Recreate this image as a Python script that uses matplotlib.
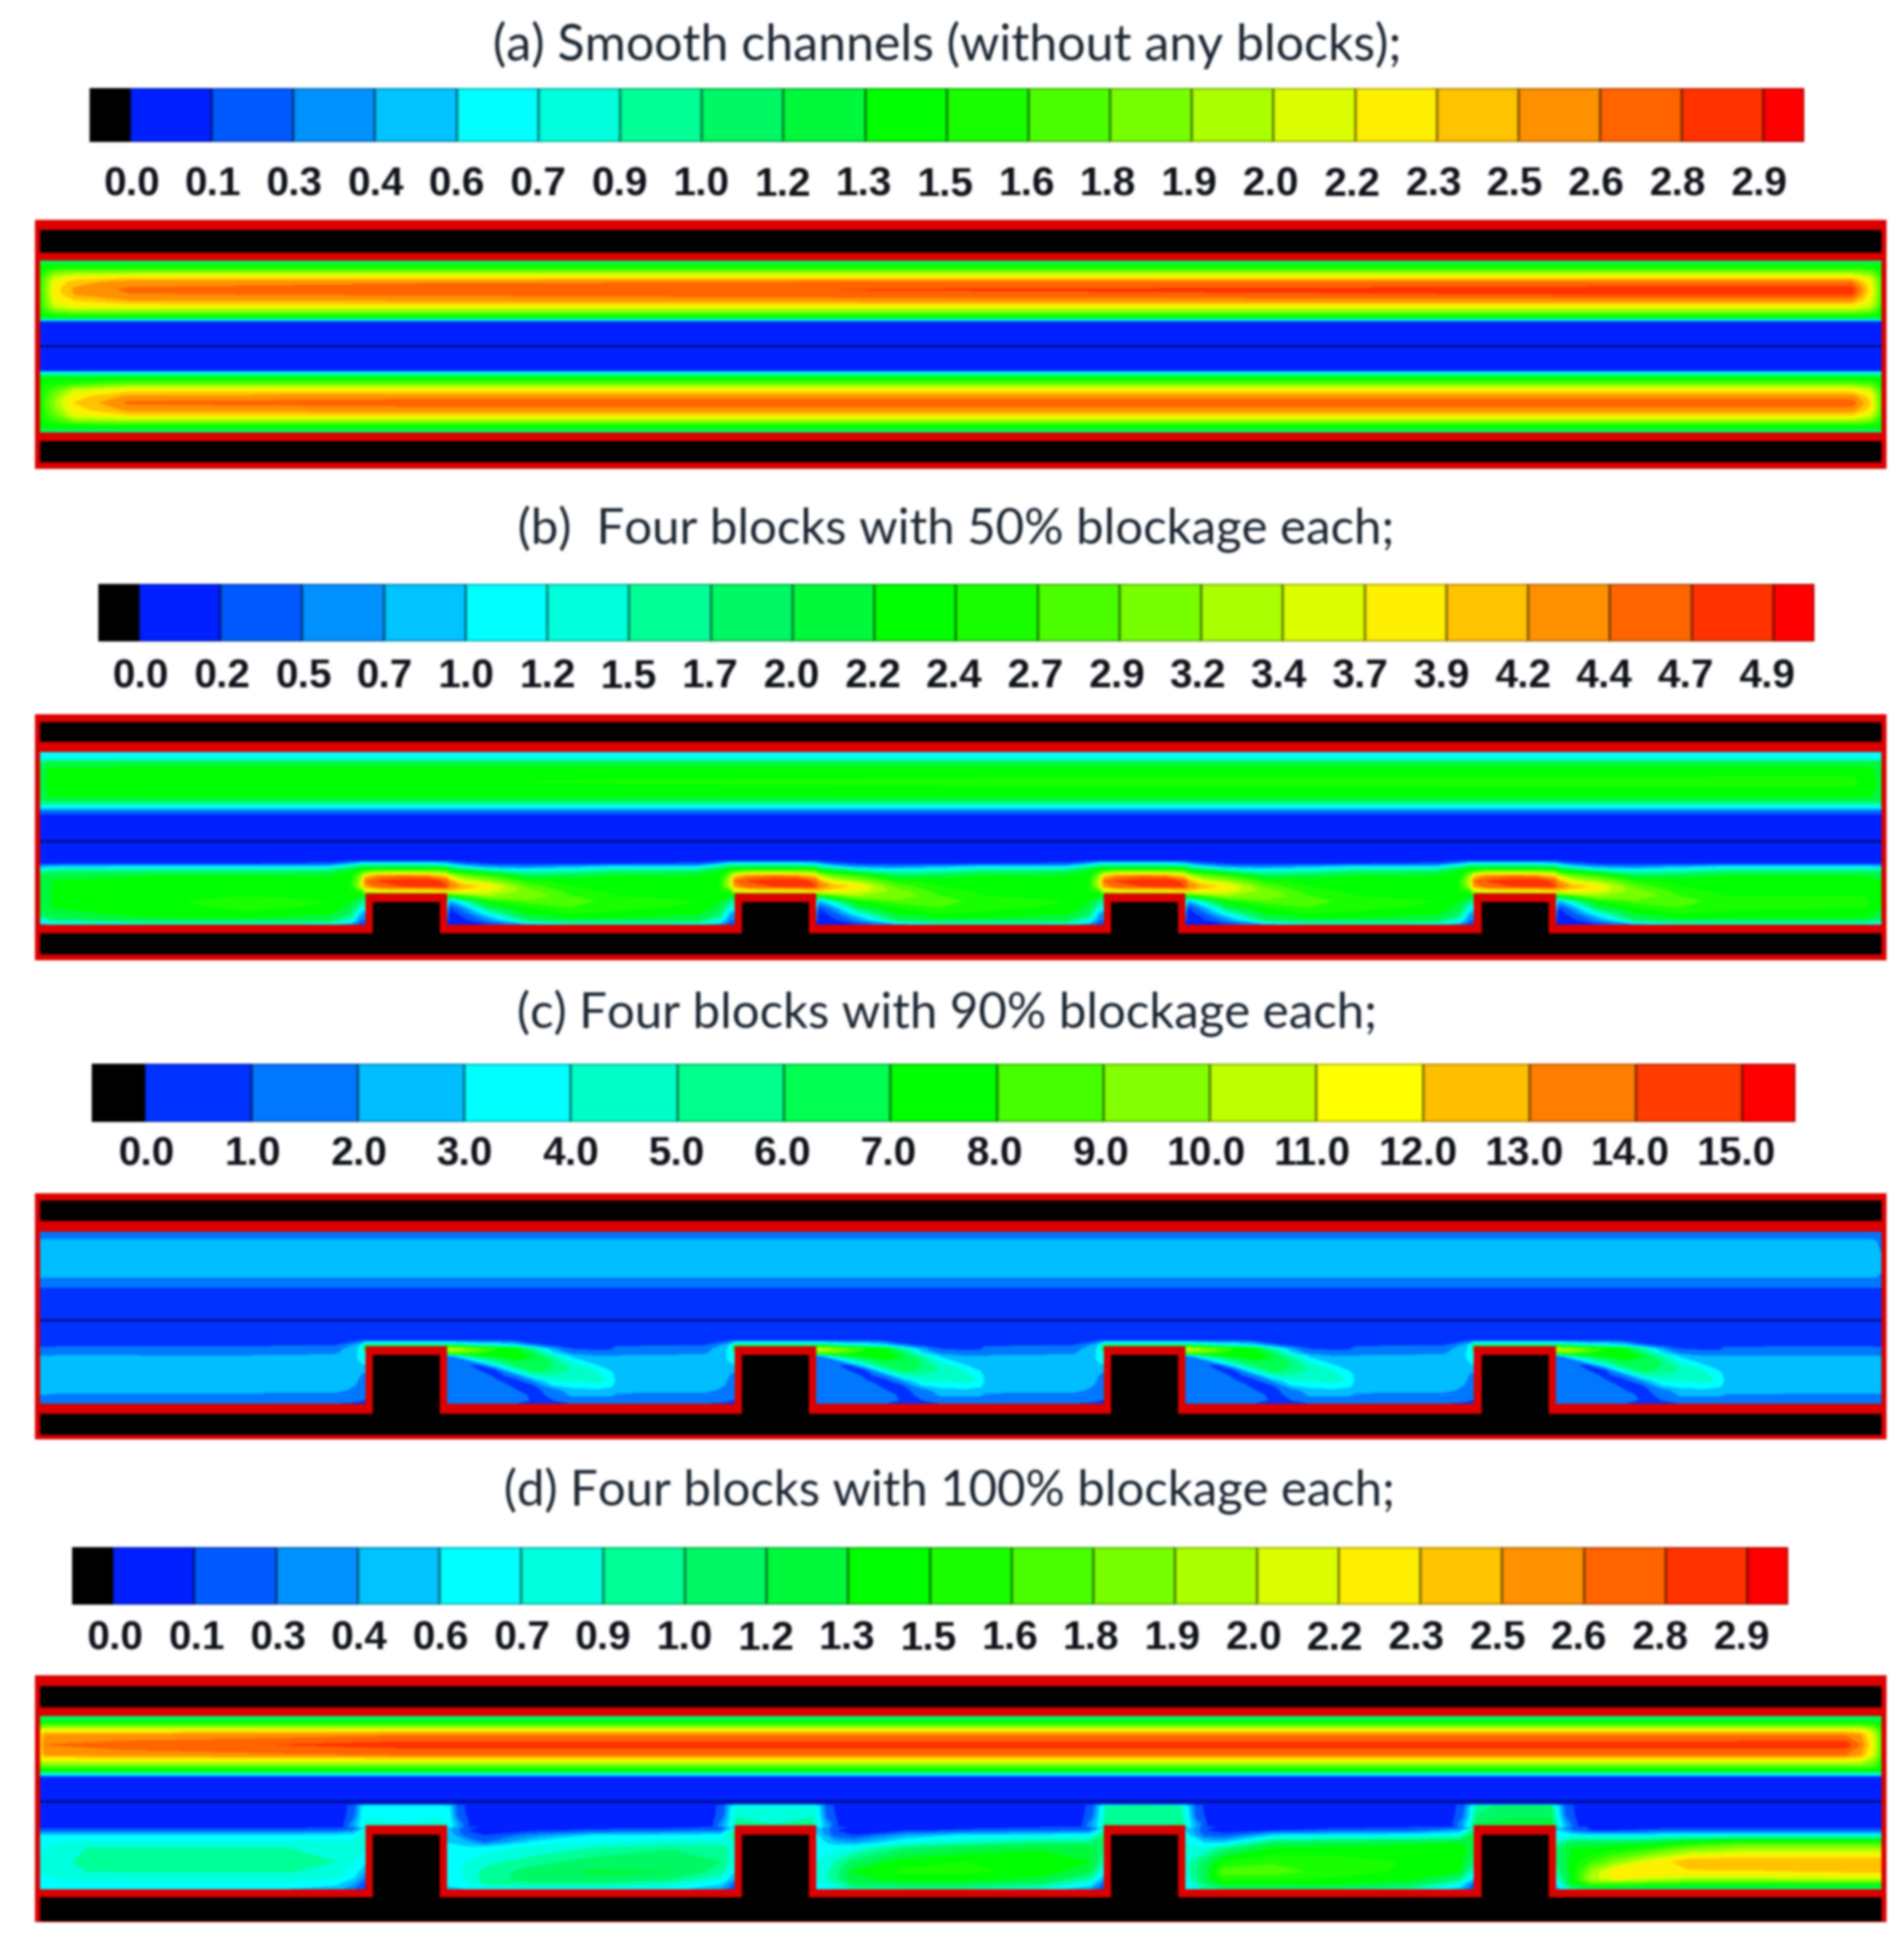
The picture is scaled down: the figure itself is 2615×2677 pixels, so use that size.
import numpy as np
import matplotlib
matplotlib.use("Agg")
import matplotlib.pyplot as plt
from matplotlib.colors import ListedColormap
from matplotlib.patches import Rectangle

W, H = 2615, 2677
S = 2615 / 1532

# ---------- legend data ----------
titles = ["(a) Smooth channels (without any blocks);",
          "(b)  Four blocks with 50% blockage each;",
          "(c) Four blocks with 90% blockage each;",
          "(d) Four blocks with 100% blockage each;"]
ticks_a = ["0.0","0.1","0.3","0.4","0.6","0.7","0.9","1.0","1.2","1.3","1.5","1.6","1.8","1.9","2.0","2.2","2.3","2.5","2.6","2.8","2.9"]
ticks_b = ["0.0","0.2","0.5","0.7","1.0","1.2","1.5","1.7","2.0","2.2","2.4","2.7","2.9","3.2","3.4","3.7","3.9","4.2","4.4","4.7","4.9"]
ticks_c = ["0.0","1.0","2.0","3.0","4.0","5.0","6.0","7.0","8.0","9.0","10.0","11.0","12.0","13.0","14.0","15.0"]
ticks_d = ticks_a

colors_20 = [(0,32,255),(0,90,255),(0,145,255),(0,195,255),(0,255,255),(0,255,220),(0,255,150),
             (0,248,100),(0,250,60),(0,255,0),(25,255,0),(75,255,0),(120,255,0),(170,255,0),
             (220,255,0),(255,240,0),(255,195,0),(255,145,0),(255,100,0),(255,50,0),(255,0,0)]
colors_15 = [(0,50,255),(0,120,255),(0,190,255),(0,255,255),(0,255,200),(0,255,140),(0,255,80),
             (0,255,0),(70,255,0),(130,255,0),(190,255,0),(255,255,0),(255,190,0),(255,125,0),
             (255,60,0),(255,0,0)]
RED = "#dc0000"

# ---------- field readings (panels a, b, d: position along the 20-step legend; panel c: value) ----------
a_x = [32, 44, 60, 104, 330, 720, 1300, 1490, 1505, 1514]
a_y = [33, 36, 41, 46, 50, 56, 60, 64.5, 69.5, 74.5, 78, 80.5, 82, 101, 121, 123, 127, 132, 137, 142, 147, 153, 158, 163, 167, 171]
a_field = [
 [6,7,7,7,7,7,7,7,7,6],
 [9,9,9,9,9,9,9,9,9,9],
 [10,11.5,12,12,12,12,12,12,11.5,10],
 [10.5,14,15,15.5,15.5,15.5,15.5,15.5,14,10.5],
 [10.5,15,16.5,17.5,17.8,18,18,18,15,11],
 [10.5,15.5,17.2,18.2,18.6,19.05,19.6,19.6,15.5,11],
 [10.5,15.2,17,17.9,18.1,18.5,19,19,15.2,11],
 [10.5,15,16,17,17.2,17.5,17.5,17.5,15,11],
 [10.5,14,15,15.2,15.2,15.2,15.2,15.2,14,10.5],
 [10,11.5,12,12,12,12,12,12,11.5,10],
 [9,9,9,9,9,9,9,9,9,9],
 [5,5,5,5,5,5,5,5,5,5],
 [.8,.8,.8,.8,.8,.8,.8,.8,.8,.8],
 [.5,.5,.5,.5,.5,.5,.5,.5,.5,.5],
 [.8,.8,.8,.8,.8,.8,.8,.8,.8,.8],
 [5,5,5,5,5,5,5,5,5,5],
 [9,9,9,9,9,9,9,9,9,9],
 [9.5,10.5,11,12,12,12,12,12,11.5,10],
 [10,11.5,14,15.5,15.5,15.5,15.5,15.5,14,10.5],
 [10,12.5,15.5,17.2,17.5,17.5,17.5,17.5,15.5,11],
 [10,13,16,18.2,18.5,18.6,18.6,18.6,16,11],
 [10,12.5,15.5,17.2,17.5,17.5,17.5,17.5,15.5,11],
 [10,11.5,14.5,15.5,15.5,15.5,15.5,15.5,14,10.5],
 [9.5,10.5,11.5,12,12,12,12,12,11.5,10],
 [9,9,9,9,9,9,9,9,9,9],
 [7,7,7,7,7,7,7,7,7,7],
]

b_up_x = [32, 40, 200, 490, 800, 1490, 1505, 1514]
b_up_y = [30, 35, 39, 45, 54, 62, 68, 72, 75, 78, 82, 101, 172]
b_up_field = [
 [4,4,4,4,4,4,4,4],
 [5,5,5,5,5,5,5,5],
 [7,8.5,8.5,8.5,8.5,8.5,8.5,8],
 [8,9.3,9.5,9.5,9.5,9.5,9.3,8.5],
 [8,9.5,9.7,10.1,10.3,10.4,9.5,8.5],
 [8,9.3,9.5,9.5,9.6,9.6,9.3,8.5],
 [7.5,8.8,8.8,8.8,8.8,8.8,8.8,8],
 [6,6,6,6,6,6,6,6],
 [4.5,4.5,4.5,4.5,4.5,4.5,4.5,4.5],
 [1.5,1.5,1.5,1.5,1.5,1.5,1.5,1.5],
 [.8,.8,.8,.8,.8,.8,.8,.8],
 [.5,.5,.5,.5,.5,.5,.5,.5],
 [.5,.5,.5,.5,.5,.5,.5,.5],
]

b_low_y = [118, 120, 123, 126, 130, 134, 138, 142, 146, 150, 155, 160, 165, 169]
b_in_x = [32, 42, 120]
b_in_cols = [
 [.8,1,3.5,6,8,8.5,8.5,8.5,8.5,8.5,8.5,7.5,5,3.5],
 [.8,1,4,7,8.5,9,9,9,9,9,9,8.5,7,4],
 [.8,1,4.5,7,9,9.5,9.7,9.7,9.7,9.7,9.5,9.5,8.5,4.5],
]
b_end_x = [1500, 1514]
b_end_cols = [
 [.8,1,4.5,7,9,9.5,9.7,9.7,10,10.4,10,9.6,8.5,4.5],
 [.8,1,4,7,8.5,9,9,9,9,9,9,8.5,7,4],
]
b_dx = [-95,-30,-12,-3,0,10,30,50,65,68,80,100,130,165,202]
b_period = [
 [.8,.8,1,1.5,1.5,1.5,1.5,1.5,1.2,1,.8,.8,.8,.8,.8],
 [1,1.2,3,4.5,4.5,4.5,4.5,4.5,4,3,1.5,1,.9,1,1],
 [4.5,4.5,7,8.5,8.5,8.5,8.5,8.5,8,7,5,3,2.5,3.5,4.5],
 [7,7.5,9,10.5,11,12,12,12,11.5,10,9,7,5.5,6,7],
 [9,9,9.5,13,16,17.5,18,17.5,16,14,12,11,8,8.5,9],
 [9.5,9.5,10,14,18,19,19.5,20,18.5,17,14.5,13,10.5,9.5,9.5],
 [9.5,9.5,10,14,17,18.5,19,19.5,19,18,16.5,15.5,11.5,10,9.5],
 [9.7,9.5,10,11,14,15,15,15,16,16,15.5,14.5,12.5,10.5,9.7],
 [10,9.6,9.5,9,9,9,9,9,9,9,11,13,13,11,10],
 [10.5,10,9,7,7,7,7,7,7,3,6,10,11.5,11.5,10.5],
 [10.3,9.8,8.5,5,5,5,5,5,5,1,3,8,10,11,10.3],
 [9.8,9.2,7.5,3,3,3,3,3,3,.5,1.5,5,9,10,9.8],
 [8.5,8,5.5,2,2,2,2,2,2,.5,.8,2.5,7.5,8.5,8.5],
 [4.5,4.5,3,1,1,1,1,1,1,.5,.5,1,3,4.5,4.5],
]

c_up_x = [32, 1505, 1514]
c_up_y = [31, 38, 60, 67, 70, 74, 80, 101, 172]
c_up_field = [
 [1.5,1.5,1.5],[2.1,2.1,1.9],[2.5,2.5,2.1],[2.1,2.1,1.9],[1.5,1.5,1.5],[1.1,1.1,1.1],[.7,.7,.7],[.5,.5,.5],[.5,.5,.5],
]
c_low_y = [118, 122, 125, 128, 131, 134, 138, 142, 146, 150, 154, 158, 162, 166, 170]
c_in_x = [32, 50, 120]
c_in_cols = [
 [.5,.7,1.2,1.5,2,2.2,2.2,2.2,2.2,2.2,2.2,2.2,2,1.5,.9],
 [.5,.7,1.5,1.6,2.2,2.5,2.5,2.5,2.5,2.5,2.5,2.4,1.7,1.5,.8],
 [.5,.8,1.5,1.6,2.1,2.5,2.5,2.5,2.5,2.5,2.5,2.4,1.7,1.5,.8],
]
c_end_x = [1500, 1514]
c_end_cols = [
 [.5,.8,1.5,1.6,2.1,2.5,2.5,2.5,2.5,2.5,2.5,2.4,1.7,1.5,.8],
 [.5,.7,1.2,1.5,2.1,2.2,2.2,2.2,2.2,2.2,2.2,2.2,1.9,1.5,.8],
]
c_dx = [-95,-25,-8,-2,0,30,64,68,78,91,106,121,136,151,166,186,198,202]
c_period = [
 [.5,.5,.6,.8,.8,.8,.8,.8,.7,.6,.6,.6,.5,.5,.5,.5,.5,.5],
 [.8,.9,2.2,3.5,6,6,6,6,5.5,4.5,4,3,1.2,.8,.7,.7,.7,.8],
 [1.5,1.6,2.5,3.8,8,8,8,11,10,9,8,7.5,5,2.2,1,.9,.9,1.2],
 [1.6,1.8,2.6,3.9,4,4,4,9,9,8,8,7.5,6,3,1.5,1.2,1.2,1.5],
 [2.1,2.2,2.7,3.8,3.8,1,1,1,4,6,7,7.5,7,5,2.8,2.1,2.1,2.1],
 [2.5,2.5,2.6,3.5,3.5,1.5,1.5,1.5,.8,4,6,7,7,5.5,3.4,2.3,2.3,2.5],
 [2.5,2.5,2.5,2.8,2.8,1.6,1.6,1.6,1.2,.7,3.5,6,7,6,4.5,3,2.4,2.5],
 [2.5,2.5,2.4,2.2,2.2,1.6,1.6,1.6,1.5,1,.9,4.2,6.2,5.8,4.9,3.9,2.8,2.5],
 [2.5,2.5,2.3,1.8,1.8,1.6,1.6,1.6,1.6,1.4,.7,1.6,4.5,4.9,4.7,4.2,3.5,2.5],
 [2.5,2.5,2.2,1.6,1.6,1.6,1.6,1.6,1.6,1.6,1,.7,2.2,4,4.2,4.2,3.9,2.7],
 [2.5,2.4,2,1.5,1.5,1.6,1.6,1.6,1.6,1.6,1.4,.7,1,3,3.5,3.7,3.3,2.5],
 [2.4,2.3,1.8,1.3,1.3,1.6,1.6,1.6,1.6,1.6,1.6,1,.7,1.5,2.6,2.8,2.5,2.4],
 [1.7,1.7,1.4,1.2,1.2,1.6,1.6,1.6,1.6,1.6,1.6,1.4,.7,1.2,2.1,2.2,2.1,1.9],
 [1.5,1.5,1.2,1,1,1.5,1.5,1.5,1.5,1.5,1.5,1.5,.8,1,1.5,1.5,1.5,1.5],
 [.8,.8,.7,.7,.7,.8,.8,.8,.8,.8,.8,.8,.8,.7,.8,.8,.8,.8],
]

d_up_x = [32, 36, 100, 224, 320, 1485, 1497, 1507, 1514]
d_up_y = [33, 37, 41, 44, 48, 56, 64, 68, 73, 77, 80, 82, 101, 172]
d_up_field = [
 [7,7,7,7,7,7,7,7,7],
 [9,9,9,9,9,9,9,9,9],
 [11.5,12,12,12,12,12,12,11.5,10],
 [14,15,15,15,15,15,15,13,10.5],
 [15.5,17,17.2,17.5,17.8,17.8,17,14.5,11],
 [15.5,18,18.5,19,19.5,19.6,18,15,11],
 [15.5,17,17.5,17.8,18,18,17,14.5,11],
 [14,15,15.2,15.2,15.2,15.2,15,13,10.5],
 [11.5,12,12,12,12,12,12,11.5,10],
 [9,9,9,9,9,9,9,9,9],
 [5,5,5,5,5,5,5,5,5],
 [1,1,1,1,1,1,1,1,1],
 [.5,.5,.5,.5,.5,.5,.5,.5,.5],
 [.5,.5,.5,.5,.5,.5,.5,.5,.5],
]
d_gap_y = [122, 125, 129, 135, 139, 150, 158, 164, 168, 172]
d_gap_x = [
 [32, 45, 70, 150, 230, 270, 285, 294],
 [360, 375, 390, 430, 480, 540, 580, 591],
 [657, 672, 687, 727, 777, 837, 877, 888],
 [954, 969, 984, 1024, 1074, 1134, 1174, 1186],
 [1252, 1265, 1280, 1298, 1330, 1359, 1404, 1514],
]
d_gap_1 = [
 [.7,.7,.7,.7,.7,.7,1,3],
 [1.5,1.5,1.5,1.5,1.5,1.6,2.5,5.5],
 [4.2,4.2,4.2,4.2,4.2,4.3,4.6,6],
 [4.6,5,5.2,5.2,5.2,5.2,5.1,5.5],
 [4.8,5.5,6,6,6,5.8,5.2,5],
 [5,5.5,6.4,6.4,6.4,6,5,4.2],
 [5,5.5,6,6.1,6.1,5.6,4.6,3],
 [4.8,5,5.3,5.3,5.3,4.9,3.8,1.8],
 [4.5,4.5,4.6,4.6,4.6,4.2,2.8,.9],
 [4,4,4,4,4,3.5,2,.8],
]
d_gap_2 = [
 [3.5,1.5,.7,.7,.7,.7,1,3],
 [3.5,1,.8,.8,1.2,1.5,2,6],
 [4,1.5,1,2.5,4.2,4.3,4.5,6.5],
 [4,3.5,2,4.5,5,5.5,5.5,6],
 [4.2,4.2,4.5,5.2,6,6.8,6.5,5.5],
 [4.5,5,5.6,6.5,7.5,8,7,5],
 [4.5,5.2,6.3,7.5,8.2,8,6.5,4],
 [4.5,5,6.5,7.5,7.8,7,5,3],
 [4.3,4.7,6,6.5,6.5,5.5,4,1.5],
 [3.5,4,4.5,4.5,4.5,4.5,3,1],
]
d_gap_3 = [
 [3.5,1.5,.7,.7,.7,.9,1,3],
 [3.8,1,.8,.8,1.2,1.5,2,6],
 [4.2,1.5,1,3,4.3,4.4,4.6,7],
 [4.5,3.5,3,5,6,7,7,7.5],
 [4.8,4.5,5,7,8,8.8,8.5,7],
 [5,6,7.5,9.5,10,9.8,9,6],
 [5,6.5,9,10.2,10.2,9.7,8,4.5],
 [5,6.5,8.5,9.5,9.5,8.5,6,3],
 [4.5,5.5,7.5,8,8,7,4.5,1.5],
 [4,5,6,6,6,5,3,1],
]
d_gap_4 = [
 [4,1.5,.7,.7,.7,.9,1,3],
 [4,1,.8,1,1.3,1.5,3,7],
 [4.5,1.8,1.2,4,4.5,4.5,5,8.5],
 [5,4,4,7.5,8,8.5,9,9],
 [5.5,5,6.5,9,9.3,9.6,9.5,8.5],
 [5.5,7.5,10,10.8,10.5,9.9,9.5,7],
 [5.5,8,11.5,11.5,10.5,9.8,9,5],
 [5,8,10.5,10.5,9.8,9.3,7,3.5],
 [4.5,7,9,9,9,8,5,1.5],
 [4,6,7,7,7,6,3.5,1],
]
d_gap_5 = [
 [3.5,1.5,.8,.7,.7,.7,.7,.7],
 [4,2,1,1,1.2,1.5,1.5,1.5],
 [4.5,4.5,4.2,4.2,4.5,4.8,5,5],
 [6,8,8,8,8.5,10,11,11],
 [7,9,9,9.5,10.5,12,13,13],
 [7,9.5,11,12.5,15,16.8,17,17],
 [6,9.5,13,15.5,16,15.8,15.8,16.2],
 [5,9.5,13.5,15,14,13.5,13.5,14],
 [4,9,11,11,10.5,10,10,10],
 [3,6,7,7,7,7,7,7],
]
d_gaps = [d_gap_1, d_gap_2, d_gap_3, d_gap_4, d_gap_5]
d_cap_dx = [-18, -9, -3, 2, 30, 62, 68, 74, 84]
d_cap_y = [104, 105, 110, 115, 120, 122]
d_cap_1 = [
 [.7,.7,.7,.7,.7,.7,.7,.7,.7],
 [.7,1.5,4,4.5,4.5,4.5,4,1.5,.7],
 [.7,1.5,4.2,4.6,4.5,4.6,4.2,1.5,.7],
 [.7,2,4.3,5,4.5,5,4.5,2,.7],
 [.8,3,4.5,5.5,5,5.5,4.5,3,.8],
 [.8,3,4.8,5.5,5,5.5,4.8,3,.8],
]
d_cap_2 = [
 [.7,.7,.7,.7,.7,.7,.7,.7,.7],
 [.7,1.5,4,5.5,5.8,5.5,4,1.5,.7],
 [.7,1.5,4.2,5.6,6,5.6,4.2,1.5,.7],
 [.7,2,4.3,6,6,6,4.5,2,.7],
 [.8,3,4.5,6.5,6,6.5,4.5,3,.8],
 [.8,3,4.8,6.5,6,6.5,4.8,3,.8],
]
d_cap_3 = [
 [.7,.7,.7,.7,.7,.7,.7,.7,.7],
 [.7,1.5,4,6,6.8,6,4,1.5,.7],
 [.7,1.5,4.2,6.2,7,6.2,4.2,1.5,.7],
 [.7,2,4.3,6.5,7,6.5,4.5,2,.7],
 [.8,3,4.5,7,7,7,4.5,3,.8],
 [.8,3,4.8,7.5,7,7.5,4.8,3,.8],
]
d_cap_4 = [
 [.7,.7,.7,.7,.7,.7,.7,.7,.7],
 [.7,1.5,4,6.5,7.5,7,4,1.5,.7],
 [.7,1.5,4.2,6.8,8,7.5,4.2,1.5,.7],
 [.7,2,4.3,7,8,8,4.5,2,.7],
 [.8,3,5,8,8.2,8.5,5,3,.8],
 [.8,3,5.5,9,8.5,10,5.5,3,.8],
]
d_caps = [d_cap_1, d_cap_2, d_cap_3, d_cap_4]

block_left = [294, 591, 888, 1186]

# ---------- layout (in the 1532-wide frame) ----------
legend_box = [(72, 1452, 71, 114.5), (79, 1460, 470, 516), (74, 1445, 856, 903), (58, 1439, 1245, 1291)]
legend_pad = [24, 17, 14, 16]
label_span = [(106, 1415), (113.5, 1421.5), (118, 1397), (93, 1401)]
title_pos = [(762, 36), (769, 426), (762, 816), (764, 1200)]
title_size = [49.5, 48.6, 48.6, 48.5]
panel_top = [177, 575, 960.5, 1348]
panel_h = [200, 198, 198, 198.5]
walls = [(8, 26, 33, 171, 178, 195), (6, 22, 30, 169, 176, 193),
         (5.5, 22, 31, 169, 177, 194), (9, 26, 33, 172, 179, 198)]
block_top = [None, (143.6, 151), (123, 130), (121, 128.5)]


def box_blur(img, dpi):
    out = img.astype(float)
    for _ in range(4):
        for axis in (0, 1):
            out = (np.roll(out, 1, axis) + out + np.roll(out, -1, axis)) / 3
    return out, 0, 0


def add_axes(x0, x1, y0, y1):
    return fig.add_axes([x0 * S / W, 1 - y1 * S / H, (x1 - x0) * S / W, (y1 - y0) * S / H])


def to_hex(c):
    return "#%02x%02x%02x" % c


def draw_legend(box, labels, cols, pad, span):
    ax = add_axes(*box)
    n = len(labels) - 1
    edges = np.r_[-0.5, np.arange(0, n + 1), n + 0.5]
    rgb = ["#000000"] + [to_hex(c) for c in cols]
    ax.pcolormesh(edges, [0, 1], np.arange(len(rgb)).reshape(1, -1), cmap=ListedColormap(rgb),
                  vmin=-0.5, vmax=len(rgb) - 0.5, edgecolors="#00000050", linewidth=1.5)
    ax.set_xlim(-0.5, n + 0.5)
    ax.set_ylim(0, 1)
    ax.set_yticks([])
    # the labels in the picture sit on a slightly tighter spacing than the cells
    per_cell = (box[1] - box[0]) / (n + 1)
    ax.set_xticks([(span[0] + (span[1] - span[0]) * k / n - box[0]) / per_cell - 0.5 for k in range(n + 1)])
    ax.set_xticklabels(labels, fontfamily="Liberation Sans", fontweight="bold", fontsize=40, color="#10131a")
    ax.tick_params(axis="x", length=0, pad=pad)
    for s in ax.spines.values():
        s.set_visible(False)


def draw_panel(i, layers, cols, vmax, n):
    ax = add_axes(28, 1518, panel_top[i], panel_top[i] + panel_h[i])
    t1, t2, t3, b1, b2, b3 = walls[i]
    ax.set_facecolor("black")
    levels = np.linspace(0, vmax, n + 1)
    rgb = [to_hex(c) for c in cols]
    for k, (x, y, z) in enumerate(layers):
        ax.contourf(x, y, np.array(z, float), levels=levels, colors=rgb, extend="max", zorder=1 + k * 0.01)
    h = panel_h[i]
    ax.plot([32, 1514], [101.5, 101.5], color="#000a60", lw=1.8, zorder=1.5)
    ax.add_patch(Rectangle((28, 0), 1490, t1, fc=RED, ec="none", zorder=2))
    ax.add_patch(Rectangle((28, t1), 1490, t2 - t1, fc="black", ec="none", zorder=2))
    ax.add_patch(Rectangle((28, t2), 1490, t3 - t2, fc=RED, ec="none", zorder=2))
    ax.add_patch(Rectangle((28, b1), 1490, b2 - b1, fc=RED, ec="none", zorder=2))
    ax.add_patch(Rectangle((28, b2), 1490, b3 - b2, fc="black", ec="none", zorder=2))
    if b3 < h:
        ax.add_patch(Rectangle((28, b3), 1490, h - b3, fc=RED, ec="none", zorder=2))
    if block_top[i] is not None:
        top, inner = block_top[i]
        for left in block_left:
            ax.add_patch(Rectangle((left, top), 66, b2 - top, fc=RED, ec="none", zorder=2.1))
            ax.add_patch(Rectangle((left + 6, inner), 54, b3 - inner, fc="black", ec="none", zorder=2.2))
    ax.add_patch(Rectangle((28, 0), 4, h, fc=RED, ec="none", zorder=2.3))
    ax.add_patch(Rectangle((1514, 0), 4, h, fc=RED, ec="none", zorder=2.3))
    ax.set_xlim(28, 1518)
    ax.set_ylim(h, 0)
    ax.axis("off")


def periodic(in_x, in_cols, dx, table, end_x, end_cols):
    tab = np.array(table, float)
    xs = list(in_x)
    cols = [np.array(c, float) for c in in_cols]
    for j, left in enumerate(block_left):
        last = len(dx) if j == len(block_left) - 1 else len(dx) - 1
        for q in range(last):
            xs.append(left + dx[q])
            cols.append(tab[:, q])
    xs += list(end_x)
    cols += [np.array(c, float) for c in end_cols]
    return np.array(xs), np.array(cols).T


fig = plt.figure(figsize=(W / 100, H / 100), dpi=100, facecolor="white")

for (cx, cy), t, fs in zip(title_pos, titles, title_size):
    fig.text(cx * S / W, 1 - cy * S / H, t, ha="center", va="center", family="Lato", fontsize=fs, color="#1c2733")

for box, lab, cols, pad, span in zip(legend_box, [ticks_a, ticks_b, ticks_c, ticks_d],
                                     [colors_20, colors_20, colors_15, colors_20], legend_pad, label_span):
    draw_legend(box, lab, cols, pad, span)

draw_panel(0, [(a_x, a_y, a_field)], colors_20, 20, 20)

bx, bz = periodic(b_in_x, b_in_cols, b_dx, b_period, b_end_x, b_end_cols)
draw_panel(1, [(b_up_x, b_up_y, b_up_field), (bx, b_low_y, bz)], colors_20, 20, 20)

cx_, cz = periodic(c_in_x, c_in_cols, c_dx, c_period, c_end_x, c_end_cols)
draw_panel(2, [(c_up_x, c_up_y, c_up_field), (cx_, c_low_y, cz)], colors_15, 15, 15)

d_layers = [(d_up_x, d_up_y, d_up_field)]
for gx, gz in zip(d_gap_x, d_gaps):
    d_layers.append((gx, d_gap_y, gz))
for left, cap in zip(block_left, d_caps):
    d_layers.append((np.array(d_cap_dx) + left, d_cap_y, cap))
draw_panel(3, d_layers, colors_20, 20, 20)

fig.set_agg_filter(box_blur)
fig.savefig("out.png", dpi=100)
